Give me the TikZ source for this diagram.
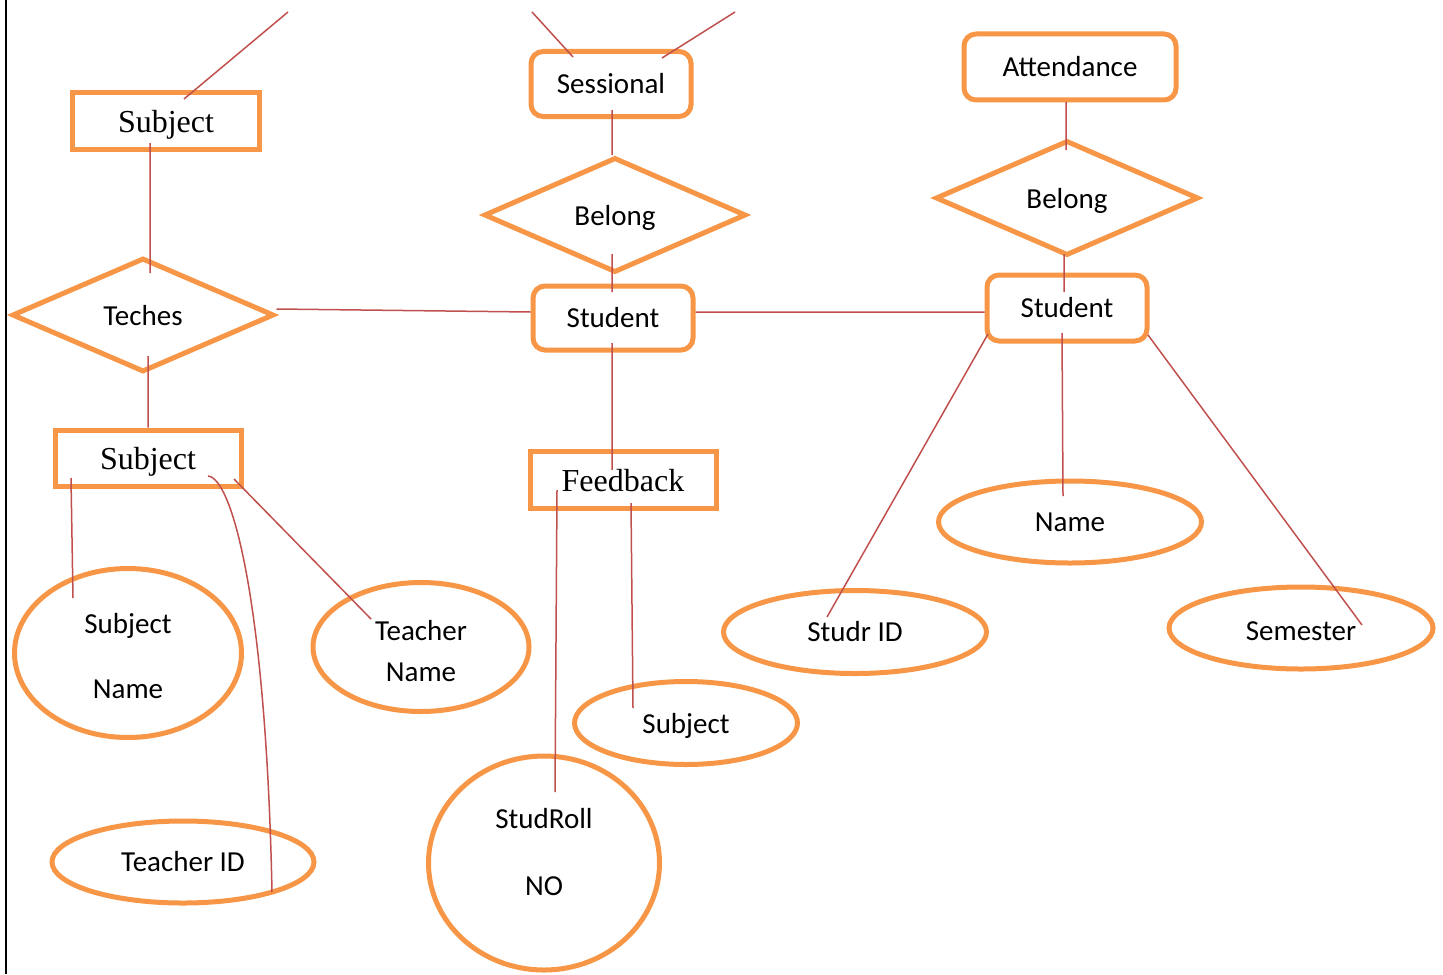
\documentclass[tikz,border=0pt]{standalone}
\usepackage{fontspec}
\setmainfont{Carlito}
\newfontfamily\timesfont{Liberation Serif}
\usetikzlibrary{shapes.geometric}
\definecolor{erorange}{HTML}{F79646}
\definecolor{erred}{HTML}{C0504D}

\begin{document}
\begin{tikzpicture}[x=0.5pt, y=-0.5pt,
        every node/.style={inner sep=0pt, font=\fontsize{14.5}{17.5}\selectfont},
        entity/.style={draw=erorange, line width=2.5pt, rectangle, font=\timesfont\fontsize{16}{19}\selectfont},
        rentity/.style={draw=erorange, line width=2.5pt, rectangle, rounded corners=6pt},
        relation/.style={draw=erorange, line width=2.5pt, diamond, aspect=2.25},
        attribute/.style={draw=erorange, line width=2.5pt, ellipse, align=center},
        link/.style={draw=erred, line width=0.75pt}]
        \useasboundingbox (0,0) rectangle (1443,974);
        \draw[line width=1pt] (6,0) -- (6,974);

        \node[entity] (subject_top)      at (166,121)  [minimum width=93.5pt, minimum height=28pt, text depth=-0.6pt] {Subject};
        \node[relation] (teches)         at (143,315)  [minimum width=131pt, minimum height=57pt, text depth=-1pt] {Teches};
        \node[entity] (subject_low)      at (148,458)  [minimum width=93pt, minimum height=28pt, text depth=-0.6pt] {Subject};
        \node[attribute] (subject_name)  at (128,653)  [minimum width=113.5pt, minimum height=84.5pt] {\rule{0pt}{13pt}Subject\\[15pt]Name};
        \node[attribute] (teacher_name)  at (421,647)  [minimum width=108pt, minimum height=64.5pt] {\rule{0pt}{14.5pt}Teacher\\[3pt]Name};
        \node[attribute] (teacher_id)    at (183,862)  [minimum width=131pt, minimum height=41pt] {Teacher ID};

        \node[rentity] (sessional)       at (611,84)   [minimum width=80pt, minimum height=32.5pt] {Sessional};
        \node[relation] (belong_mid)     at (615,215)  [minimum width=131pt, minimum height=57.5pt, text depth=-1.8pt] {Belong};
        \node[rentity] (student_mid)     at (613,318)  [minimum width=80pt, minimum height=32pt] {Student};
        \node[entity] (feedback)         at (623,480)  [minimum width=93pt, minimum height=28.5pt, text depth=-3pt] {Feedback};
        \node[attribute] (stud_roll)     at (544,863)  [minimum width=115.5pt, minimum height=107pt, text depth=11pt] {StudRoll\\[16pt]NO};
        \node[attribute] (feed_subject)  at (686,723)  [minimum width=111.5pt, minimum height=41.5pt, text depth=-1pt] {Subject};

        \node[rentity] (attendance)      at (1070,67)  [minimum width=106pt, minimum height=33pt] {Attendance};
        \node[relation] (belong_right)   at (1067,198) [minimum width=131.5pt, minimum height=57.5pt, text depth=-1.2pt] {Belong};
        \node[rentity] (student_right)   at (1067,308) [minimum width=80pt, minimum height=33pt] {Student};
        \node[attribute] (stud_name)     at (1070,522) [minimum width=131.5pt, minimum height=41pt] {Name};
        \node[attribute] (studr_id)      at (855,632)  [minimum width=131.5pt, minimum height=41.5pt] {Studr ID};
        \node[attribute] (semester)      at (1301,628) [minimum width=132pt, minimum height=41pt] {\rule{0pt}{12.5pt}Semester};

        \coordinate (subject_up)    at (288,12);
        \coordinate (sessional_ul)  at (532,12);
        \coordinate (sessional_ur)  at (735,12);

        \path[link] ([shift={(18,-22)}]subject_top.center) -- (subject_up)
                    ([shift={(-16,22)}]subject_top.center) -- ([shift={(7,-42)}]teches.center)
                    ([shift={(5,41)}]teches.center) -- (subject_low.north)
                    ([shift={(0,-6)}]teches.east) -- ([shift={(0,-6)}]student_mid.west)
                    ([shift={(-77,20)}]subject_low.center) -- ([shift={(-55,-55)}]subject_name.center)
                    ([shift={(86,21)}]subject_low.center) -- ([shift={(-50,-28)}]teacher_name.center)
                    ([shift={(60,18)}]subject_low.center) .. controls +(24,2) and +(-6,-292) .. ([shift={(89,30)}]teacher_id.center);

        \path[link] ([shift={(-38,-27)}]sessional.center) -- (sessional_ul)
                    ([shift={(51,-26)}]sessional.center) -- (sessional_ur)
                    ([shift={(1,26)}]sessional.center) -- ([shift={(-3,0)}]belong_mid.north)
                    ([shift={(-3,39)}]belong_mid.center) -- ([shift={(-1,-26)}]student_mid.center)
                    ([shift={(0,-6)}]student_mid.east) -- ([shift={(0,4)}]student_right.west)
                    ([shift={(-1,25)}]student_mid.center) -- ([shift={(-11,-10)}]feedback.center)
                    ([shift={(-66,10)}]feedback.center) -- ([shift={(11,-71)}]stud_roll.center)
                    ([shift={(8,23)}]feedback.center) -- ([shift={(-53,-15)}]feed_subject.center);

        \path[link] ([shift={(-4,35)}]attendance.center) -- ([shift={(-1,-48)}]belong_right.center)
                    ([shift={(-3,56)}]belong_right.center) -- ([shift={(-3,-16)}]student_right.center)
                    ([shift={(-79,26)}]student_right.center) -- ([shift={(-28,-15)}]studr_id.center)
                    ([shift={(-5,25)}]student_right.center) -- ([shift={(-7,-26)}]stud_name.center)
                    ([shift={(81,27)}]student_right.center) -- ([shift={(61,-3)}]semester.center);
    \end{tikzpicture}
\end{document}
